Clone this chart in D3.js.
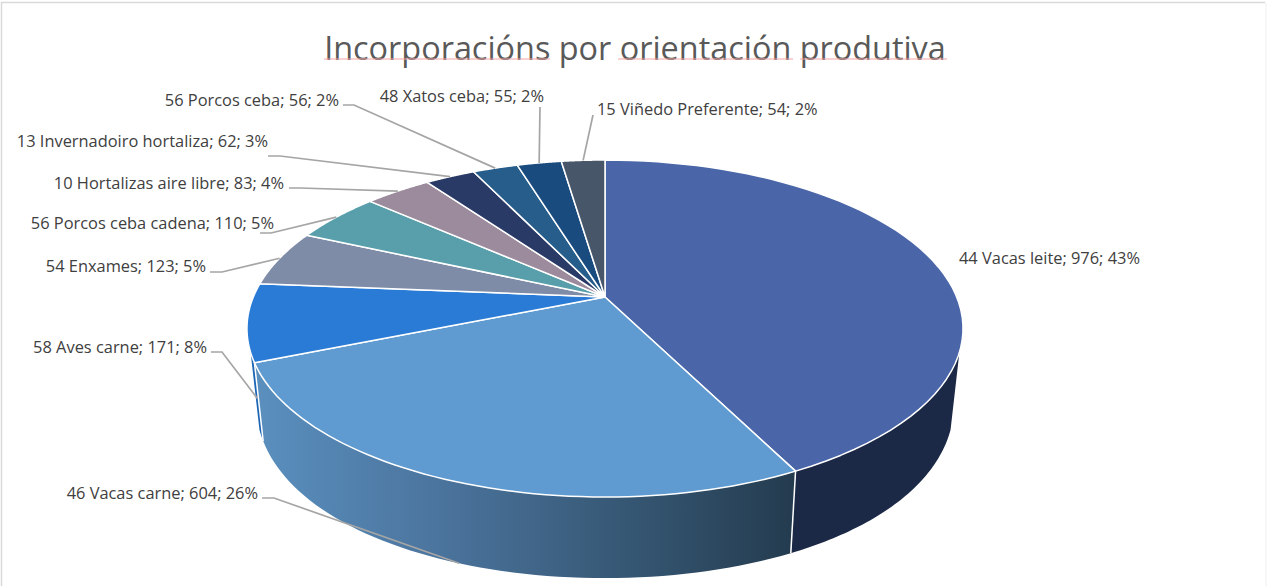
<!DOCTYPE html>
<html><head><meta charset="utf-8">
<style>html,body{margin:0;padding:0;background:#fff}svg{display:block}</style>
<script src="https://cdn.jsdelivr.net/npm/d3@7"></script></head>
<body><svg id="c" width="1267" height="586"></svg>
<script>
const categories=["44 Vacas leite","46 Vacas carne","58 Aves carne","54 Enxames","56 Porcos ceba cadena","10 Hortalizas aire libre","13 Invernadoiro hortaliza","56 Porcos ceba","48 Xatos ceba","15 Viñedo Preferente"];
const values=[976,604,171,123,110,83,62,56,55,54];
const percents=["43%","26%","8%","5%","5%","4%","3%","2%","2%","2%"];
const colors=["#4a66a8","#5f9bd1","#297bd6","#7f8ca7","#589fab","#9b8b9c","#293a66","#265d8b","#194b7e","#475669"];
const titleText="Incorporacións por orientación produtiva";
const underlineSpans=[[324,550],[618,793],[800,947]];
// label layout: text end/start x, baseline y, anchor, elbow
const labelX=[959,258,207,206,274,284,268,339,544,597];
const labelY=[264,499,353,272,229,189,147,106,102,115];
const labelAnchor=["start","end","end","end","end","end","end","end","end","start"];
const elbowA=[null,[262,498],[211,352],[210,272],[260,233],[289,188],[268,156],[343,105],[540,107],[593,115]];
const elbowB=[null,[274,498],[222,352],[222,272],[271,233],[300,188],[280,156],[354,105],null,null];
const leaderDepth=[0,1,.5,0,0,0,0,0,0,0];
const leaderAngle=[null,null,249,null,null,null,null,null,null,null];

const svg=d3.select("#c");
const cx=605,cy=297,A=351.7,B=162.6,k=.187,xs=.975,By=190,Bk=.1,Cy=367;
const top3=t=>{const u=Math.sin(t),v=-Math.cos(t),w=1-k*v;return [cx+A*u/w,cy+B*v/w];};
const bot3=t=>{const p=top3(t),v=-Math.cos(t);return [cx+xs*(p[0]-cx),Cy+By*v/(1-Bk*v)];};
const line=d3.line();
const samples=(a,b)=>d3.range(0,61).map(i=>a+(b-a)*i/60);
const arcs=d3.pie().sort(null).value(d=>d)(values);

// frame
svg.append("path").attr("d","M1.5,586V2.5H1265").attr("fill","none").attr("stroke","#d9d9d9").attr("stroke-width",1.5);
svg.append("path").attr("d","M1266,2.5V586").attr("fill","none").attr("stroke","#f0f0f0").attr("stroke-width",1);

// gradient
const defs=svg.append("defs");
const g=defs.append("linearGradient").attr("id","sideGrad").attr("gradientUnits","userSpaceOnUse").attr("x1",258).attr("x2",796).attr("y1",0).attr("y2",0);
[[0,"#5a8fbe"],[.35,"#4a739c"],[.7,"#355672"],[1,"#243b4e"]].forEach(s=>g.append("stop").attr("offset",s[0]).attr("stop-color",s[1]));

// sides
const sideFill=["#1c2946","url(#sideGrad)","#1d66b5"];
const cutR=Math.acos(-.32),cutL=2*Math.PI-cutR;
arcs.slice(0,3).forEach((d,i)=>{
  const a=Math.max(d.startAngle,cutR),b=Math.min(d.endAngle,cutL);
  if(b<=a)return;
  const s=samples(a,b);
  const pts=s.map(top3).concat(s.slice().reverse().map(bot3));
  svg.append("path").attr("d",line(pts)+"Z").attr("fill",sideFill[i]).attr("stroke","none");
});
// edges between side faces
[arcs[0].endAngle,arcs[1].endAngle].forEach(t=>{
  svg.append("path").attr("d",line([top3(t),bot3(t)])).attr("stroke","#fff").attr("stroke-width",1.5).attr("fill","none");
});

// top
svg.selectAll("path.slice").data(arcs).join("path").attr("class","slice")
 .attr("d",d=>line([[cx,cy]].concat(samples(d.startAngle,d.endAngle).map(top3)))+"Z")
 .attr("fill",(d,i)=>colors[i]).attr("stroke","#fff").attr("stroke-width",1.5).attr("stroke-linejoin","round");

// leaders
arcs.forEach((d,i)=>{
  if(!elbowA[i])return;
  const t=leaderAngle[i]!=null?leaderAngle[i]*Math.PI/180:(d.startAngle+d.endAngle)/2;
  const p=top3(t),q=bot3(t),f=leaderDepth[i];
  const end=[p[0]+(q[0]-p[0])*f,p[1]+(q[1]-p[1])*f];
  const pts=[elbowA[i]].concat(elbowB[i]?[elbowB[i]]:[]).concat([end]);
  svg.append("path").attr("d",line(pts)).attr("fill","none").attr("stroke","#a5a5a5").attr("stroke-width",1.7);
});

// labels
const font="'Open Sans'";
svg.selectAll("text.lab").data(categories).join("text").attr("class","lab")
 .attr("x",(d,i)=>labelX[i]).attr("y",(d,i)=>labelY[i]).attr("text-anchor",(d,i)=>labelAnchor[i])
 .attr("font-family",font).attr("font-size",16.4).attr("fill","#404040")
 .text((d,i)=>`${d}; ${values[i]}; ${percents[i]}`);

// title
svg.append("text").attr("x",635).attr("y",60).attr("text-anchor","middle").attr("font-family",font).attr("font-size",32.4).attr("fill","#595959").text(titleText);
svg.selectAll("line.sq").data(underlineSpans).join("line").attr("class","sq")
 .attr("x1",d=>d[0]).attr("x2",d=>d[1]).attr("y1",59).attr("y2",59).attr("stroke","#f5a3a3").attr("stroke-width",1.2);
</script></body></html>
